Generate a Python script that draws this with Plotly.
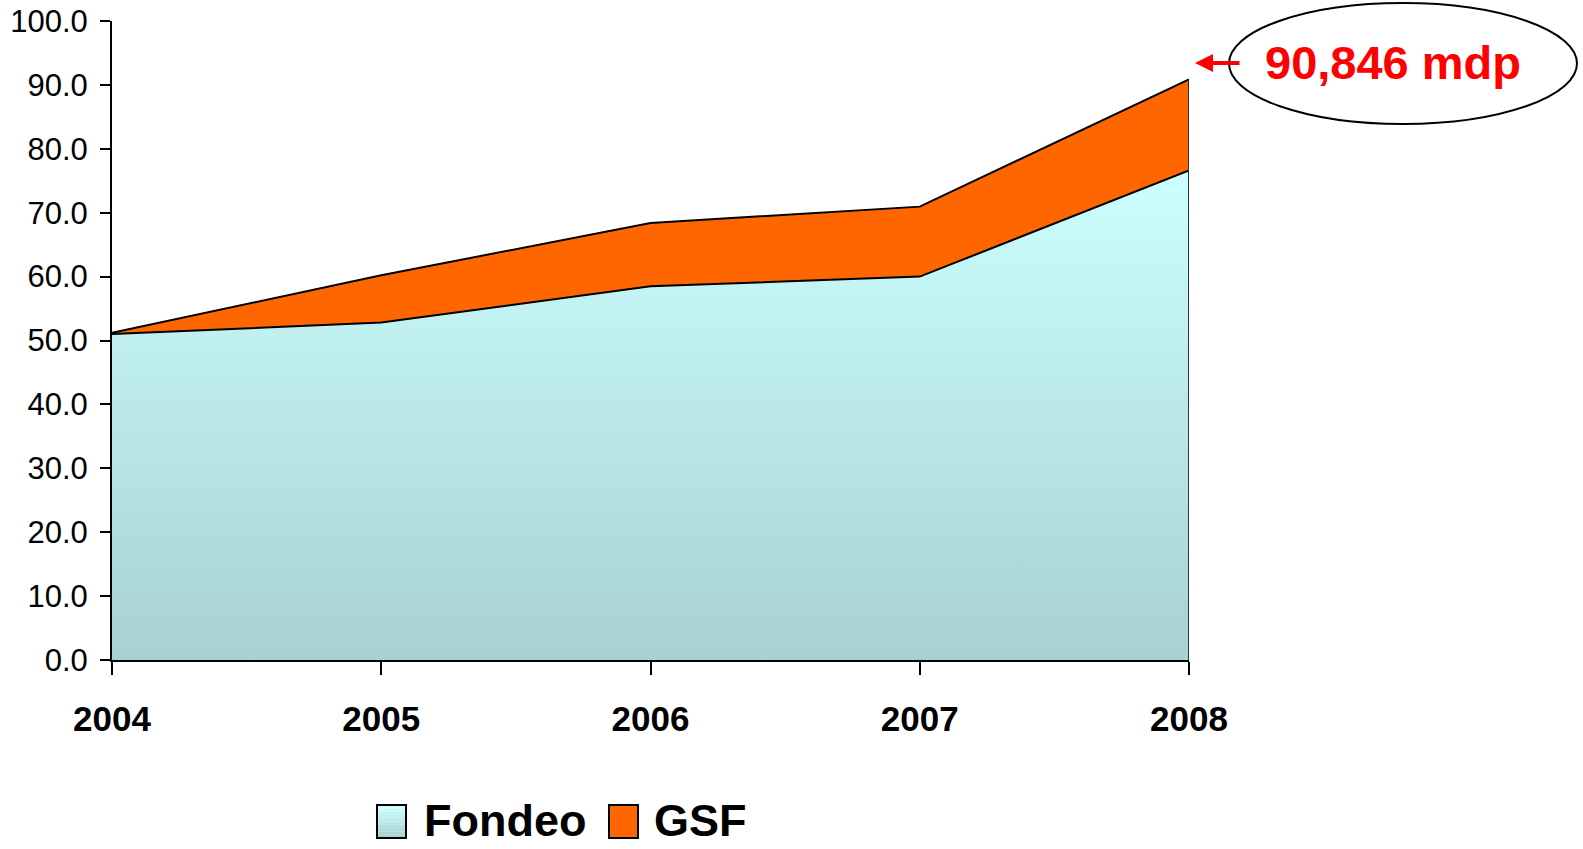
import plotly.graph_objects as go

years = [2004, 2005, 2006, 2007, 2008]
year_labels = ["2004", "2005", "2006", "2007", "2008"]
fondeo = [51.0, 52.8, 58.5, 60.0, 76.6]
gsf = [0.2, 7.4, 9.9, 10.95, 14.25]
series_names = ["Fondeo", "GSF"]
y_ticks = [0, 10, 20, 30, 40, 50, 60, 70, 80, 90, 100]
callout_text = "90,846 mdp"

FONT = "Liberation Sans, Arial, sans-serif"
fondeo_top = "#CCFFFF"
fondeo_bot = "#A8D1D1"
gsf_color = "#FF6600"

fig = go.Figure()
fig.add_trace(go.Scatter(
    x=years, y=fondeo, name=series_names[0], stackgroup="one", mode="lines",
    line=dict(color="black", width=2),
    fillgradient=dict(type="vertical", start=0, stop=max(fondeo),
                      colorscale=[[0, fondeo_bot], [1, fondeo_top]]),
    showlegend=False, hoverinfo="skip",
))
fig.add_trace(go.Scatter(
    x=years, y=gsf, name=series_names[1], stackgroup="one", mode="lines",
    line=dict(color="black", width=2), fillcolor=gsf_color,
    showlegend=False, hoverinfo="skip",
))
total_last = fondeo[-1] + gsf[-1]
fig.add_trace(go.Scatter(
    x=[years[-1], years[-1]], y=[0, total_last], mode="lines",
    line=dict(color="#333333", width=2), showlegend=False, hoverinfo="skip",
))

W, H = 1583, 849
L, T = 112, 21
PLOT_BOTTOM = 660
PLOT_RIGHT = 1189
B = H - PLOT_BOTTOM
R = W - PLOT_RIGHT
pw = W - L - R
ph = H - T - B

def px(x):
    return (x - L) / pw

def py(y):
    return (PLOT_BOTTOM - y) / ph

shapes = []
annotations = []

# callout ellipse
shapes.append(dict(type="circle", xref="paper", yref="paper",
                   x0=px(1229), x1=px(1577), y0=py(124), y1=py(3),
                   line=dict(color="black", width=2), fillcolor="rgba(0,0,0,0)"))
annotations.append(dict(xref="paper", yref="paper", x=px(1393), y=py(63),
                        text="<b>%s</b>" % callout_text, showarrow=False,
                        xanchor="center", yanchor="middle",
                        font=dict(family=FONT, size=47, color="#FF0000")))
annotations.append(dict(xref="paper", yref="paper", x=px(1195), y=py(63),
                        text="", showarrow=True, ax=46, ay=0,
                        arrowcolor="#FF0000", arrowwidth=4, arrowhead=2,
                        arrowsize=0.9, standoff=0))

# manual legend
def mix(a, b, t):
    ca = [int(a[j:j + 2], 16) for j in (1, 3, 5)]
    cb = [int(b[j:j + 2], 16) for j in (1, 3, 5)]
    return "rgb(%d,%d,%d)" % tuple(round(ca[k] + (cb[k] - ca[k]) * t) for k in range(3))

legend_items = [
    (series_names[0], 377, 422, "grad"),
    (series_names[1], 609, 652, gsf_color),
]
top_y, bot_y = 805, 838
for name, sx, tx, col in legend_items:
    if col == "grad":
        n = 10
        for i in range(n):
            f = i / (n - 1)
            y0 = top_y + (bot_y - top_y) * i / n
            y1 = top_y + (bot_y - top_y) * (i + 1) / n
            shapes.append(dict(type="rect", xref="paper", yref="paper",
                               x0=px(sx), x1=px(sx + 29), y0=py(y1), y1=py(y0),
                               line=dict(width=0), fillcolor=mix(fondeo_top, fondeo_bot, f)))
        shapes.append(dict(type="rect", xref="paper", yref="paper",
                           x0=px(sx), x1=px(sx + 29), y0=py(bot_y), y1=py(top_y),
                           line=dict(color="black", width=2), fillcolor="rgba(0,0,0,0)"))
    else:
        shapes.append(dict(type="rect", xref="paper", yref="paper",
                           x0=px(sx), x1=px(sx + 29), y0=py(bot_y), y1=py(top_y),
                           line=dict(color="black", width=2), fillcolor=col))
    annotations.append(dict(xref="paper", yref="paper", x=px(tx), y=py(820),
                            text="<b>%s</b>" % name, showarrow=False,
                            xanchor="left", yanchor="middle",
                            font=dict(family=FONT, size=45, color="black")))

fig.update_layout(
    width=W, height=H,
    margin=dict(l=L, r=R, t=T, b=B, autoexpand=False),
    paper_bgcolor="white", plot_bgcolor="white",
    showlegend=False,
    shapes=shapes, annotations=annotations,
    xaxis=dict(range=[years[0], years[-1]], tickvals=years, ticktext=year_labels,
               showgrid=False, zeroline=False, showline=True, linecolor="black",
               linewidth=2, ticks="outside", ticklen=13, tickwidth=2, tickcolor="black",
               tickfont=dict(family=FONT, size=35, color="black", weight="bold"),
               ticklabelstandoff=14),
    yaxis=dict(range=[0, 100], tickvals=y_ticks, tickformat=".1f",
               showgrid=False, zeroline=False, showline=True, linecolor="black",
               linewidth=2, ticks="outside", ticklen=10, tickwidth=2, tickcolor="black",
               tickfont=dict(family=FONT, size=31, color="black"),
               ticklabelstandoff=6),
)

fig.write_html("out.html", config={"displayModeBar": False},
               post_script="document.body.style.margin='0px';")
